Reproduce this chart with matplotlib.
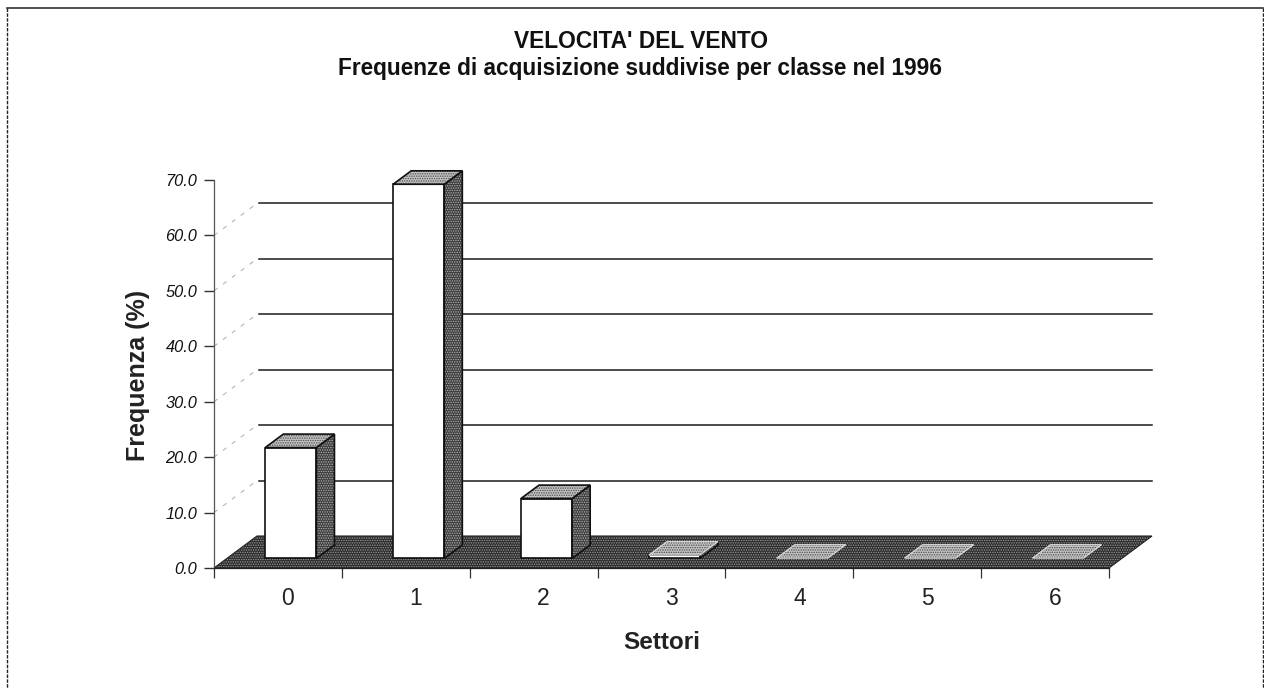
import matplotlib
matplotlib.use("Agg")
import matplotlib.pyplot as plt
from matplotlib.lines import Line2D
from matplotlib.patches import Polygon
from matplotlib.transforms import Affine2D

plt.rcParams['font.family'] = ['Liberation Sans', 'DejaVu Sans']
plt.rcParams['hatch.linewidth'] = 0.7

title_lines = ["VELOCITA' DEL VENTO", "Frequenze di acquisizione suddivise per classe nel 1996"]
categories = ["0", "1", "2", "3", "4", "5", "6"]
values = [20.0, 67.5, 10.8, 0.6, 0.05, 0.05, 0.05]
y_ticks = [0, 10, 20, 30, 40, 50, 60, 70]
grid_values = [10, 20, 30, 40, 50, 60]

W, H = 1264, 688
fig = plt.figure(figsize=(W / 100, H / 100), dpi=100, facecolor='white')
ax = fig.add_axes([214 / W, 1 - 568 / H, (1109 - 214) / W, (568 - 180) / H])
ax.set_xlim(-0.5, 6.5)
ax.set_ylim(0, 70)
ax.patch.set_visible(False)

DX, DY = 43, 32
BAR_HALF = 0.2
D_FRONT, D_BACK = 0.30, 0.72


def pt(x, y, d):
    return (ax.transData + Affine2D().translate(d * DX, d * DY)).transform((x, y))


def poly(points, **kw):
    p = Polygon(points, closed=True, clip_on=False, **kw)
    p.set_transform(Affine2D())
    ax.add_patch(p)
    return p


def textured(points, face, dots, edge, lw, z, hatch='.......'):
    poly(points, facecolor=face, linewidth=0, zorder=z)
    poly(points, fill=False, edgecolor=dots, hatch=hatch, linewidth=0, zorder=z)
    poly(points, fill=False, edgecolor=edge, linewidth=lw, joinstyle='miter', zorder=z)


# floor
textured([pt(-0.5, 0, 0), pt(6.5, 0, 0), pt(6.5, 0, 1), pt(-0.5, 0, 1)],
         '#2a2a2a', '#9a9a9a', '#222222', 0.8, 1)

# wall grid
for g in grid_values:
    a, b = pt(-0.5, g, 1), pt(6.5, g, 1)
    ax.plot([a[0] + 2, b[0]], [a[1], b[1]], transform=Affine2D(), color='#1a1a1a', lw=1.1,
            clip_on=False, zorder=2)
    c = pt(-0.5, g, 0)
    ax.plot([c[0], a[0]], [c[1], a[1]], transform=Affine2D(), color='#b5b5b5', lw=0.8,
            ls=(0, (4, 6)), clip_on=False, zorder=2)

# bars
for i, v in enumerate(values):
    l, r = i - BAR_HALF, i + BAR_HALF
    z = 3 + i * 0.01
    small = v < 0.3
    if not small:
        poly([pt(l, 0, D_FRONT), pt(r, 0, D_FRONT), pt(r, v, D_FRONT), pt(l, v, D_FRONT)],
             facecolor='white', edgecolor='#111111', linewidth=1.2, joinstyle='miter', zorder=z)
        textured([pt(r, 0, D_FRONT), pt(r, 0, D_BACK), pt(r, v, D_BACK), pt(r, v, D_FRONT)],
                 '#3c3c3c', '#b0b0b0', '#111111', 1.2, z)
    textured([pt(l, v, D_FRONT), pt(r, v, D_FRONT), pt(r, v, D_BACK), pt(l, v, D_BACK)],
             '#c4c4c4', '#4a4a4a', '#e0e0e0' if v < 1 else '#111111', 0.8 if v < 1 else 1.2, z)

# axes
for s in ('top', 'right'):
    ax.spines[s].set_visible(False)
ax.spines['left'].set_color('#555555')
ax.spines['left'].set_linewidth(0.9)
ax.spines['left'].set_linestyle((0, (3, 1)))
ax.spines['bottom'].set_color('#222222')
ax.spines['bottom'].set_linewidth(0.9)
ax.set_yticks(y_ticks)
ax.set_yticklabels([f"{t:.1f}" for t in y_ticks], fontsize=11.8, fontstyle='italic', color='#111111')
ax.tick_params(axis='y', length=7, width=1.0, pad=5, color='#333333')
ax.set_xticks([i - 0.5 for i in range(len(categories) + 1)])
ax.set_xticklabels([])
ax.tick_params(axis='x', which='major', length=7, width=0.9, direction='out', color='#333333')
LABEL_SHIFT = 10 / 128
ax.set_xticks([i + LABEL_SHIFT for i in range(len(categories))], minor=True)
ax.set_xticklabels(categories, minor=True, fontsize=16.5, color='#222222')
ax.tick_params(axis='x', which='minor', length=0, pad=14)

ax.set_xlabel("Settori", fontsize=17.5, fontweight='bold', color='#222222', labelpad=15)
ax.set_ylabel("Frequenza (%)", fontsize=18, fontweight='bold', color='#222222')
ax.yaxis.set_label_coords((150 - 214) / (1109 - 214), (568 - 375) / (568 - 180))

fig.text(641 / W, 1 - 41 / H, title_lines[0], ha='center', va='center', fontsize=16.4,
         fontweight='bold', color='#111111')
fig.text(640 / W, 1 - 69 / H, title_lines[1], ha='center', va='center', fontsize=16.3,
         fontweight='bold', color='#111111')

# page frame: top solid, sides broken by the scan
fig.add_artist(Line2D([7 / W, 1263 / W], [1 - 8 / H, 1 - 8 / H], color='#333333', lw=1.2,
                      transform=fig.transFigure))
for x in (7, 1263):
    fig.add_artist(Line2D([x / W, x / W], [1 - 8 / H, 0], color='#222222', lw=1.0,
                          ls=(0, (2.5, 1)), transform=fig.transFigure))

fig.savefig("out.png", dpi=100, facecolor='white')
